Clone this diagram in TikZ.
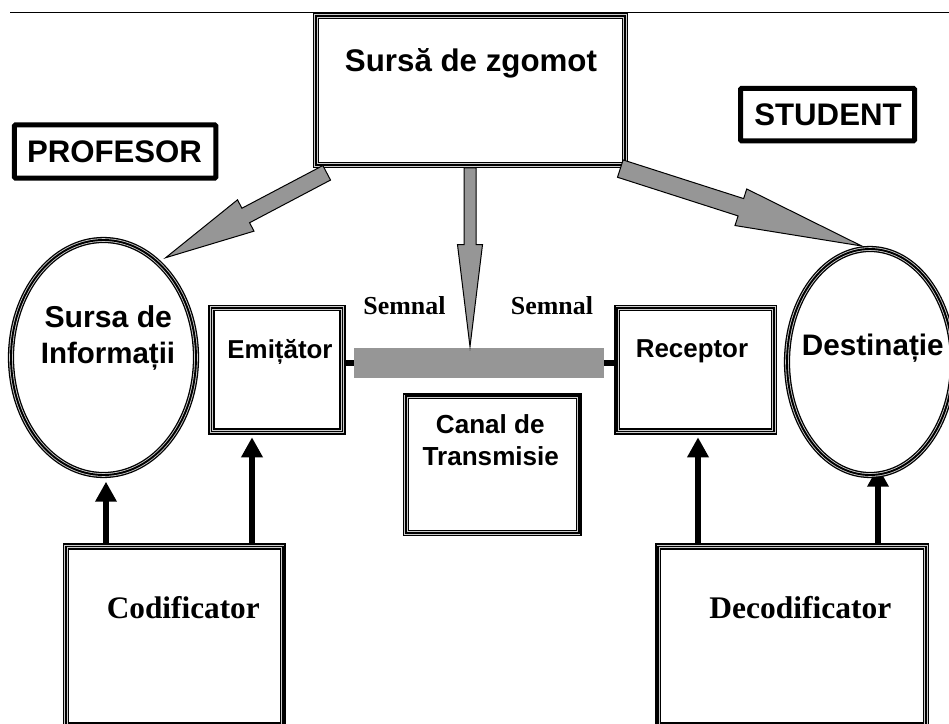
\documentclass[tikz,border=0pt]{standalone}
\usepackage{fontspec}
\setmainfont{Liberation Serif}
\newfontfamily\arialf{Liberation Sans}
\usetikzlibrary{calc,arrows.meta,shapes.geometric}
\definecolor{bargray}{HTML}{969696}
\tikzset{
  x=1bp,y=-1bp,
  tri/.style={draw=black,fill=white,line width=6.2bp,inner sep=0pt,
    postaction={draw=white!80!black,line width=3.6bp},
    postaction={draw=black,line width=1.9bp}},
  tribox/.style 2 args={tri,rectangle,minimum width=#1 bp,minimum height=#2 bp},
  triell/.style 2 args={tri,ellipse,minimum width=#1 bp,minimum height=#2 bp},
  tagbox/.style 2 args={draw=black,line width=5bp,rounded corners=1bp,fill=white,
    minimum width=#1 bp,minimum height=#2 bp,inner sep=0pt},
  grayarrow/.style={draw=black,line width=1bp,fill=bargray,line join=miter},
  blackarrow/.style={draw=black,line width=6bp,
    -{Triangle[length=20bp,width=20.5bp]}},
  barlink/.style={draw=black,line width=6.5bp},
  ssf/.style={font=\arialf\bfseries\fontsize{#1}{#1}\selectfont,anchor=base,inner sep=0pt},
  srf/.style={font=\bfseries\fontsize{#1}{#1}\selectfont,anchor=base,inner sep=0pt},
}
% tail, tip, half shaft, half head, head length, all named or in bp
\newcommand\fatarrow[5]{%
  \coordinate (shoulder) at ($(#2)!#5!(#1)$);
  \draw[grayarrow]
    ($(#1)!#3!90:(#2)$) -- ($(shoulder)!#3!90:(#2)$) -- ($(shoulder)!#4!90:(#2)$)
    -- (#2)
    -- ($(shoulder)!#4!-90:(#2)$) -- ($(shoulder)!#3!-90:(#2)$) -- ($(#1)!#3!-90:(#2)$) -- cycle;}
\begin{document}
\begin{tikzpicture}
\useasboundingbox (0,0) rectangle (949,724);
\fill[white] (0,0) rectangle (949,724);
% top rule
\coordinate (ruleL) at (10,12.4);
\coordinate (ruleR) at (949,12.4);
\draw[line width=1bp] (ruleL) -- (ruleR);

% boxes
\node[tribox={309}{149.5}] (zg) at (470.5,90.5) {};
\node[tagbox={201.5}{53}] (prof) at (115.2,151.5) {};
\node[tagbox={174}{52.5}] (stud) at (827.5,114.7) {};
\node[tribox={131}{123.5}] (emit) at (277,369.7) {};
\node[tribox={156.4}{123.5}] (recv) at (695.5,369.7) {};
\node[tribox={172.7}{136.4}] (canal) at (492.3,464.5) {};
\node[tribox={216.7}{179}] (cod) at (174.3,636) {};
\node[tribox={267.7}{179}] (dec) at (792.2,636) {};

% signal bar
\node[fill=bargray,minimum width=250bp,minimum height=30bp,inner sep=0pt] (bar) at (479,362.7) {};
\coordinate (linky) at (0,363);
\draw[barlink] (emit.east |- linky) -- (bar.west |- linky);
\draw[barlink] (bar.east |- linky) -- (recv.west |- linky);

% black arrows
\coordinate (tipA) at (106,481.7);
\coordinate (tipB) at (252,437.3);
\coordinate (tipC) at (698,437.3);
\coordinate (tipD) at (878,466.7);
\draw[blackarrow] (tipD |- dec.north) -- (tipD);
\draw[blackarrow] (tipC |- dec.north) -- (tipC);
\draw[blackarrow] (tipB |- cod.north) -- (tipB);
\draw[blackarrow] (tipA |- cod.north) -- (tipA);

% ellipses
\node[triell={185}{235}] (src) at (103.5,357.5) {};
\node[triell={166}{226}] (dst) at (870,362) {};

% grey arrows
\coordinate (tailL) at (326.7,172.8);
\coordinate (tipL) at (165.7,257.7);
\coordinate (tailM) at (470,168);
\coordinate (tipM) at (470,346.7);
\coordinate (tailR) at (620.3,168.6);
\coordinate (tipR) at (861.7,246);
\fatarrow{tailL}{tipL}{8.2bp}{17.7bp}{90.5bp}
\fatarrow{tailM}{tipM}{6bp}{12.5bp}{102bp}
\fatarrow{tailR}{tipR}{9.1bp}{19.2bp}{126.9bp}

% labels
\node[ssf=31.4] (tzg) at (471,71.7) {Sursă de zgomot};
\node[ssf=31.3] (tprof) at (114.5,162.7) {PROFESOR};
\node[ssf=31.3] (tstud) at (828,126) {STUDENT};
\node[ssf=30.3] (tsrc1) at (108.3,327.7) {Sursa de};
\node[ssf=29.6] (tsrc2) at (108,363.5) {Informații};
\node[ssf=26] (temit) at (280,358) {Emițător};
\node[ssf=26] (trecv) at (692,357.5) {Receptor};
\node[ssf=29.8] (tdst) at (872.8,355) {Destinație};
\node[ssf=26.2] (tcan1) at (490.3,433.3) {Canal de};
\node[ssf=26.2] (tcan2) at (490.8,465) {Transmisie};
\node[srf=31.4] (tcod) at (183.3,618.3) {Codificator};
\node[srf=31.6] (tdec) at (800.3,618.3) {Decodificator};
\node[srf=26] (tsem1) at (404.5,314.3) {Semnal};
\node[srf=26] (tsem2) at (552,314.3) {Semnal};
\end{tikzpicture}
\end{document}
